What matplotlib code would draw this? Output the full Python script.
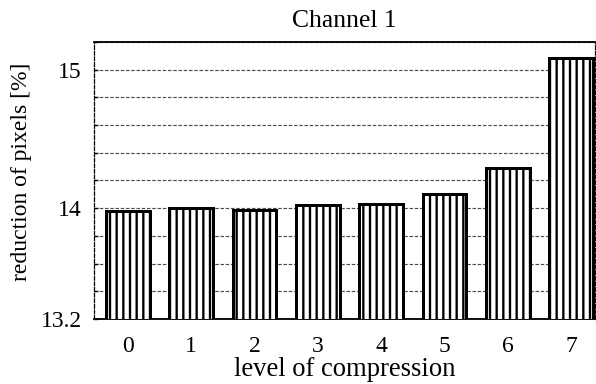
import numpy as np
import matplotlib
matplotlib.use("Agg")
import matplotlib.pyplot as plt

# data
levels = [0, 1, 2, 3, 4, 5, 6, 7]
reduction = [13.98, 14.00, 13.99, 14.02, 14.03, 14.10, 14.29, 15.08]
ytick_vals = [13.2, 13.4, 13.6, 13.8, 14.0, 14.2, 14.4, 14.6, 14.8, 15.0, 15.2]
ytick_text = ["13.2", "", "", "", "14", "", "", "", "", "15", ""]

plt.rcParams["font.family"] = ["Liberation Serif", "DejaVu Serif"]
plt.rcParams["hatch.linewidth"] = 1.4
plt.rcParams["hatch.color"] = "black"

# dpi 120 so the '|||' hatch spacing comes out near the scan's stripes
fig = plt.figure(figsize=(596 / 120, 384 / 120), dpi=120)
ax = fig.add_axes([0.158, 0.169, 0.840, 0.722])

ax.bar(levels, reduction, width=0.69, color="white", edgecolor="black",
       linewidth=1.8, hatch="|||", zorder=3)

ax.set_ylim(13.2, 15.2)
ax.set_xlim(-0.53, 7.37)
ax.set_yticks(ytick_vals)
ax.set_yticklabels(ytick_text)
ax.set_xticks(levels)
ax.set_xticklabels([str(l) for l in levels])

ax.grid(axis="y", color="0.3", linestyle=(0, (3, 1.5)), linewidth=0.7, zorder=0)
ax.tick_params(axis="both", labelsize=14.2, length=2.5, direction="in")
ax.tick_params(axis="x", length=0, pad=10)
ax.tick_params(axis="y", pad=7.5)

for side in ["left", "right"]:
    ax.spines[side].set_linestyle((0, (3, 1.5)))
    ax.spines[side].set_linewidth(0.75)
ax.spines["top"].set_linewidth(1.1)
ax.spines["bottom"].set_linewidth(1.1)

ax.set_title("Channel 1", fontsize=15.4, pad=9)
ax.set_xlabel("level of compression", fontsize=16, labelpad=0)
ax.set_ylabel("reduction of pixels [%]", fontsize=14.2)
ax.yaxis.set_label_coords(-0.125, 0.53)

fig.savefig("out.png", dpi=120)
